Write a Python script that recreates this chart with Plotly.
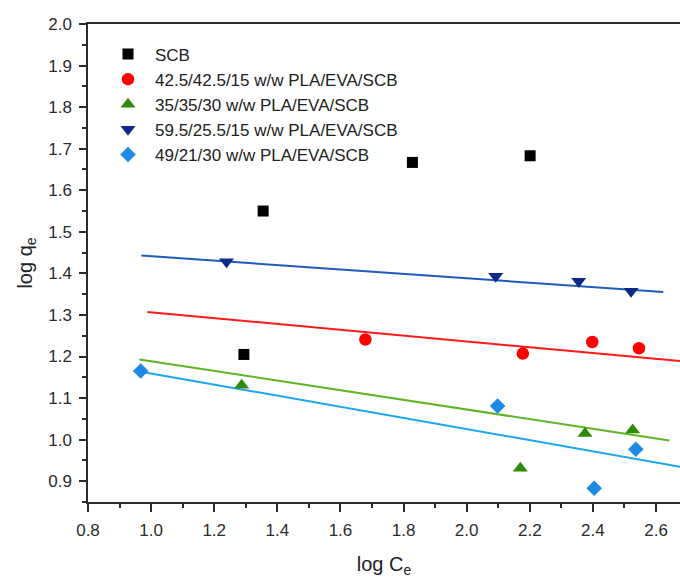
import plotly.graph_objects as go

# ---- data ----
scb_x = [1.294, 1.355, 1.828, 2.201]
scb_y = [1.205, 1.550, 1.667, 1.683]

b425_x = [1.679, 2.178, 2.398, 2.546]
b425_y = [1.241, 1.207, 1.235, 1.220]

b35_x = [1.287, 2.170, 2.375, 2.526]
b35_y = [1.131, 0.931, 1.015, 1.023]

b595_x = [1.239, 2.092, 2.355, 2.521]
b595_y = [1.428, 1.393, 1.381, 1.357]

b49_x = [0.967, 2.098, 2.404, 2.536]
b49_y = [1.165, 1.081, 0.883, 0.977]

# fitted lines (end points)
fit595_x = [0.969, 2.623]
fit595_y = [1.443, 1.355]
fit425_x = [0.988, 2.676]
fit425_y = [1.307, 1.189]
fit35_x = [0.963, 2.642]
fit35_y = [1.193, 0.998]
fit49_x = [0.972, 2.676]
fit49_y = [1.163, 0.935]

labels = ["SCB",
          "42.5/42.5/15 w/w PLA/EVA/SCB",
          "35/35/30 w/w PLA/EVA/SCB",
          "59.5/25.5/15 w/w PLA/EVA/SCB",
          "49/21/30 w/w PLA/EVA/SCB"]

FONT = "Liberation Sans, Arial, sans-serif"
AX = "#2b2b2b"

fig = go.Figure()

# fit lines (no legend)
for fx, fy, col in [(fit595_x, fit595_y, "#1f5bbf"),
                    (fit425_x, fit425_y, "#ff1a1a"),
                    (fit35_x, fit35_y, "#5fb526"),
                    (fit49_x, fit49_y, "#1ca6f0")]:
    fig.add_trace(go.Scatter(x=fx, y=fy, mode="lines",
                             line=dict(color=col, width=2),
                             showlegend=False, hoverinfo="skip"))

# markers
series = [
    (scb_x, scb_y, labels[0], "square", "#000000", 11),
    (b425_x, b425_y, labels[1], "circle", "#ff0000", 12.5),
    (b35_x, b35_y, labels[2], "triangle-up", "#2f8a06", 13),
    (b595_x, b595_y, labels[3], "triangle-down", "#0d2a8a", 13),
    (b49_x, b49_y, labels[4], "diamond", "#1e8ae6", 12),
]
for xs, ys, name, sym, col, sz in series:
    fig.add_trace(go.Scatter(x=xs, y=ys, mode="markers", name=name,
                             marker=dict(symbol=sym, color=col, size=sz,
                                         line=dict(width=0))))

fig.update_layout(
    width=680, height=578,
    margin=dict(l=88, r=0, t=24, b=76),
    paper_bgcolor="white", plot_bgcolor="white",
    font=dict(family=FONT, size=17, color="#2b2b2b"),
    legend=dict(x=(101 - 88) / 592, y=1 - (36.5 - 24) / 478,
                xanchor="left", yanchor="top", itemwidth=44,
                font=dict(family=FONT, size=17, color="#222222"),
                bgcolor="rgba(0,0,0,0)", borderwidth=0),
    showlegend=True,
)

fig.update_xaxes(
    range=[0.8, 2.676], dtick=0.2, tick0=0.8, tickformat=".1f",
    showgrid=False, zeroline=False,
    showline=True, linecolor=AX, linewidth=1.5, mirror=True,
    ticks="outside", ticklen=8, tickwidth=1.5, tickcolor=AX,
    minor=dict(dtick=0.1, ticks="outside", ticklen=4, tickwidth=1.5, tickcolor=AX),
    tickfont=dict(family=FONT, size=17, color="#2b2b2b"),
    ticklabelstandoff=4,
    title=dict(text="log C<sub>e</sub>", font=dict(family=FONT, size=20, color="#222222"),
               standoff=18),
    automargin=False,
)
fig.update_yaxes(
    range=[0.85, 2.0], dtick=0.1, tick0=0.9, tickformat=".1f",
    showgrid=False, zeroline=False,
    showline=True, linecolor=AX, linewidth=1.5,
    ticks="outside", ticklen=7, tickwidth=1.5, tickcolor=AX,
    minor=dict(dtick=0.05, ticks="outside", ticklen=4, tickwidth=1.5, tickcolor=AX),
    tickfont=dict(family=FONT, size=17, color="#2b2b2b"),
    ticklabelstandoff=4,
    title=dict(text="log q<sub>e</sub>", font=dict(family=FONT, size=20, color="#222222"),
               standoff=10),
    automargin=False,
)

fig.write_html("out.html")
